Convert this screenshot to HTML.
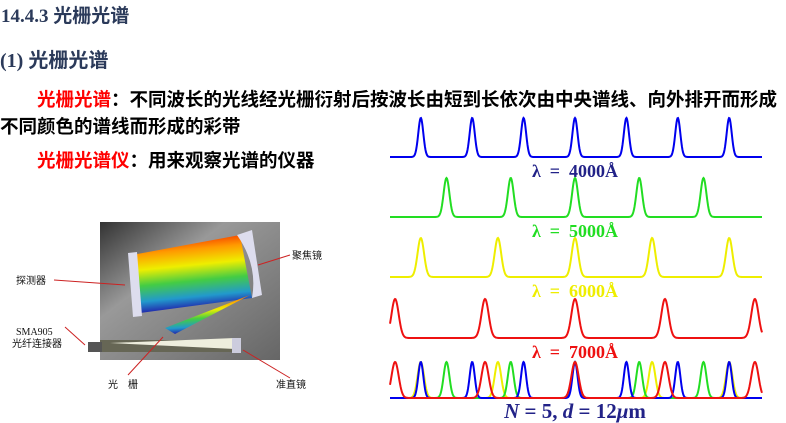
<!DOCTYPE html>
<html><head><meta charset="utf-8"><style>
body{margin:0;width:786px;height:423px;background:#fff;position:relative;overflow:hidden;font-family:"Liberation Serif","Noto Sans CJK SC",serif;}
.t{position:absolute;white-space:nowrap;font-weight:bold;line-height:1;}
.cjk{font-family:"Liberation Sans","Noto Sans CJK SC",sans-serif;}
.red{color:#f00}
</style></head><body>
<div class="t" style="left:1px;top:7px;font-size:19px;color:#2b3a5a">14.4.3 <span class="cjk">光栅光谱</span></div>
<div class="t" style="left:0;top:51px;font-size:20px;color:#2b3a5a">(1) <span class="cjk">光栅光谱</span></div>
<div class="t cjk" style="left:37px;top:91px;font-size:18.5px;color:#000"><span class="red">光栅光谱</span>：不同波长的光线经光栅衍射后按波长由短到长依次由中央谱线、向外排开而形成</div>
<div class="t cjk" style="left:0;top:118px;font-size:18.5px;color:#000">不同颜色的谱线而形成的彩带</div>
<div class="t cjk" style="left:37px;top:152px;font-size:18.5px;color:#000"><span class="red">光栅光谱仪</span>：用来观察光谱的仪器</div>

<svg style="position:absolute;left:0;top:210px" width="340" height="200">
<defs>
<linearGradient id="bg" x1="0" y1="0" x2="1" y2="1"><stop offset="0" stop-color="#333"/><stop offset="0.35" stop-color="#999"/><stop offset="1" stop-color="#666"/></linearGradient>
<linearGradient id="rb" x1="0" y1="0" x2="0.15" y2="1"><stop offset="0" stop-color="#e00"/><stop offset="0.25" stop-color="#f90"/><stop offset="0.45" stop-color="#ee0"/><stop offset="0.65" stop-color="#4c4"/><stop offset="0.85" stop-color="#29c"/><stop offset="1" stop-color="#22a"/></linearGradient>
</defs>
<rect x="100" y="12" width="180" height="138" fill="url(#bg)"/>
<path d="M132 45 L240 25 L252 88 L140 103 Z" fill="url(#rb)"/>
<path d="M165 118 L250 85 L175 124 Z" fill="url(#rb)"/>
<path d="M128 43 L137 42 L142 106 L133 107 Z" fill="#dde"/>
<path d="M237 25 L252 20 L262 85 L252 88 Q258 55 237 25Z" fill="#dde"/>
<path d="M100 130 L240 130 L240 142 L100 142Z" fill="#665"/>
<path d="M110 133 L235 128 L235 139 Z" fill="#eed"/>
<rect x="232" y="128" width="9" height="15" fill="#ccd"/>
<rect x="88" y="132" width="14" height="10" fill="#555"/>
<g font-family="Liberation Sans,Noto Sans CJK SC,sans-serif" font-size="10" fill="#111">
<text x="16" y="74">探测器</text><text x="292" y="49">聚焦镜</text>
<text x="16" y="125" font-family="Liberation Serif,serif">SMA905</text><text x="12" y="137">光纤连接器</text>
<text x="108" y="178">光　栅</text><text x="276" y="178">准直镜</text></g>
<g stroke="#c22" stroke-width="1"><line x1="54" y1="70" x2="125" y2="75"/><line x1="290" y1="45" x2="258" y2="55"/><line x1="65" y1="117" x2="85" y2="135"/><line x1="128" y1="165" x2="163" y2="127"/><line x1="290" y1="168" x2="243" y2="140"/></g>
</svg>

<svg id="chart" style="position:absolute;left:0;top:0" width="786" height="423"></svg>
<script>
const wavelengths=[4000,5000,6000,7000];
const colors=['#0000ee','#22dd22','#eeee00','#ee1111'];
const orders=[[-3,-2,-1,0,1,2,3],[-2,-1,0,1,2],[-2,-1,0,1,2],[-2,-1,0,1,2]];
const baselines=[157,217,277,338];
const labels=['λ = 4000Å','λ = 5000Å','λ = 6000Å','λ = 7000Å'];
const svg=document.getElementById('chart');const NS='http://www.w3.org/2000/svg';
const x0=390,x1=762,cx=575;
function spacing(l){return l*0.01285;}
function xOf(l,k){return cx+k*spacing(l);}
function pathFor(i,base,h){
  const l=wavelengths[i],w=1.6+l/2000;let d='';
  for(let x=x0;x<=x1;x+=0.5){let y=0;for(const k of orders[i]){const p=xOf(l,k);y+=Math.exp(-Math.pow((x-p)/w,2));}
    d+=(x===x0?'M':'L')+x+' '+(base-y*h).toFixed(1);}
  return d;}
wavelengths.forEach((l,i)=>{
  const p=document.createElementNS(NS,'path');p.setAttribute('d',pathFor(i,baselines[i],39));
  p.setAttribute('stroke',colors[i]);p.setAttribute('stroke-width','2');p.setAttribute('fill','none');
  
  
  svg.appendChild(p);
  const t=document.createElementNS(NS,'text');t.setAttribute('x',cx);t.setAttribute('y',baselines[i]+20);
  t.setAttribute('text-anchor','middle');t.setAttribute('font-size','18');t.setAttribute('font-weight','bold');
  t.setAttribute('style','white-space:pre');
  t.setAttribute('font-family','Liberation Serif,serif');t.setAttribute('fill',i==0?'#222288':colors[i]);t.textContent=labels[i].replace(/ = /,'  =  ');
  
  
  svg.appendChild(t);
});
[2,1,0,3].forEach(i=>{
  const p=document.createElementNS(NS,'path');p.setAttribute('d',pathFor(i,398,36));
  p.setAttribute('stroke',colors[i]);p.setAttribute('stroke-width','2');p.setAttribute('fill','none');
  
  
  svg.appendChild(p);
});
const t=document.createElementNS(NS,'text');t.setAttribute('x',cx);t.setAttribute('y',418);
t.setAttribute('text-anchor','middle');t.setAttribute('font-size','21');t.setAttribute('font-weight','bold');
t.setAttribute('font-family','Liberation Serif,serif');t.setAttribute('fill','#222288');
t.innerHTML='<tspan font-style="italic">N</tspan> = 5, <tspan font-style="italic">d</tspan> = 12<tspan font-style="italic">μ</tspan>m';


svg.appendChild(t);
</script>
</body></html>
